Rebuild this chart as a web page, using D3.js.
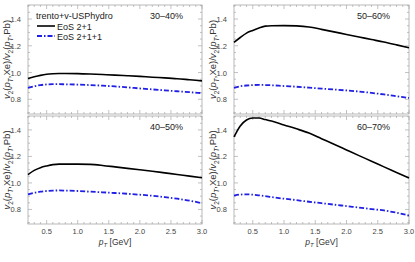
<!DOCTYPE html>
<html>
<head>
<meta charset="utf-8">
<script src="https://cdn.jsdelivr.net/npm/d3@7"></script>
<style>
  body { margin: 0; background: #fff; }
  svg { display: block; font-family: "Liberation Sans", Arial, sans-serif; }
</style>
</head>
<body>
<div id="chart"></div>
<script>
const width = 415, height = 262;

// shared pT grid (GeV)
const ptGrid = [0.2, 0.3, 0.4, 0.5, 0.6, 0.7, 0.8, 1.0, 1.2, 1.4, 1.6, 1.8, 2.0, 2.2, 2.4, 2.6, 2.8, 3.0];

// ratio v2(Xe)/v2(Pb), EoS 2+1 (solid) and EoS 2+1+1 (dot-dashed)
const eos21_3040  = [0.955, 0.968, 0.979, 0.987, 0.991, 0.993, 0.993, 0.992, 0.989, 0.985, 0.981, 0.976, 0.971, 0.965, 0.960, 0.954, 0.946, 0.938];
const eos211_3040 = [0.885, 0.898, 0.906, 0.911, 0.913, 0.913, 0.912, 0.910, 0.906, 0.902, 0.896, 0.889, 0.881, 0.874, 0.867, 0.860, 0.853, 0.846];
const eos21_5060  = [1.225, 1.262, 1.295, 1.315, 1.333, 1.347, 1.350, 1.351, 1.349, 1.341, 1.323, 1.304, 1.285, 1.266, 1.247, 1.228, 1.207, 1.185];
const eos211_5060 = [0.885, 0.897, 0.903, 0.906, 0.908, 0.907, 0.905, 0.899, 0.894, 0.887, 0.880, 0.873, 0.866, 0.858, 0.848, 0.836, 0.823, 0.810];
const eos21_4050  = [1.063, 1.095, 1.115, 1.128, 1.138, 1.142, 1.142, 1.142, 1.140, 1.132, 1.121, 1.110, 1.099, 1.088, 1.076, 1.064, 1.051, 1.039];
const eos211_4050 = [0.914, 0.926, 0.934, 0.939, 0.942, 0.943, 0.942, 0.939, 0.934, 0.929, 0.924, 0.918, 0.911, 0.903, 0.893, 0.881, 0.866, 0.847];
const eos21_6070  = [1.347, 1.430, 1.475, 1.490, 1.490, 1.478, 1.467, 1.437, 1.408, 1.376, 1.334, 1.292, 1.249, 1.206, 1.164, 1.121, 1.079, 1.037];
const eos211_6070 = [0.904, 0.912, 0.914, 0.911, 0.906, 0.900, 0.893, 0.881, 0.870, 0.858, 0.847, 0.836, 0.825, 0.814, 0.803, 0.792, 0.775, 0.754];

const centralities = ["30\u201340%", "50\u201360%", "40\u201350%", "60\u201370%"];
const solidSeries = [eos21_3040, eos21_5060, eos21_4050, eos21_6070];
const dashSeries  = [eos211_3040, eos211_5060, eos211_4050, eos211_6070];

const xTicks = [0.5, 1.0, 1.5, 2.0, 2.5, 3.0];
const yTicks = [0.8, 1.0, 1.2, 1.4];
const legendLabels = ["EoS 2+1", "EoS 2+1+1"];

// panel boxes: [left, right, top, bottom]
const boxes = [
  [28, 202, 5, 114], [234, 409, 5, 114],
  [28, 202, 116, 224], [234, 409, 116, 224]
];

const frameColor = "#a8a8a8";
const labelColor = "#444";

const svg = d3.select("#chart").append("svg")
  .attr("width", width).attr("height", height);

const line = (x, y) => d3.line()
  .x((d, i) => x(ptGrid[i]))
  .y(d => y(d))
  .curve(d3.curveMonotoneX);

boxes.forEach((b, k) => {
  const x = d3.scaleLinear().domain([0.2, 3.0]).range([b[0], b[1]]);
  const y = d3.scaleLinear().domain([0.69, 1.505]).range([b[3], b[2]]);
  const g = svg.append("g");

  // minor + major ticks on all four sides
  const xMinor = d3.range(2, 31).map(v => v / 10);
  const yMinor = d3.range(14, 31).map(v => v / 20);
  xMinor.forEach(v => {
    const len = xTicks.some(t => Math.abs(t - v) < 1e-6) ? 4 : 2;
    g.append("line").attr("x1", x(v)).attr("x2", x(v)).attr("y1", b[3]).attr("y2", b[3] - len)
      .attr("stroke", frameColor).attr("stroke-width", 0.7);
    g.append("line").attr("x1", x(v)).attr("x2", x(v)).attr("y1", b[2]).attr("y2", b[2] + len)
      .attr("stroke", frameColor).attr("stroke-width", 0.7);
  });
  yMinor.forEach(v => {
    const len = yTicks.some(t => Math.abs(t - v) < 1e-6) ? 4 : 2;
    g.append("line").attr("y1", y(v)).attr("y2", y(v)).attr("x1", b[0]).attr("x2", b[0] + len)
      .attr("stroke", frameColor).attr("stroke-width", 0.7);
    g.append("line").attr("y1", y(v)).attr("y2", y(v)).attr("x1", b[1]).attr("x2", b[1] - len)
      .attr("stroke", frameColor).attr("stroke-width", 0.7);
  });

  // frame
  g.append("rect").attr("x", b[0]).attr("y", b[2])
    .attr("width", b[1] - b[0]).attr("height", b[3] - b[2])
    .attr("fill", "none").attr("stroke", frameColor).attr("stroke-width", 0.8);

  // y tick labels
  g.selectAll(".ylab").data(yTicks).enter().append("text")
    .attr("x", b[0] - 7).attr("y", d => y(d) + 3)
    .attr("text-anchor", "end").attr("font-size", 7.5).attr("fill", labelColor)
    .text(d => d.toFixed(1));

  // x tick labels on bottom row
  if (k >= 2) {
    g.selectAll(".xlab").data(xTicks).enter().append("text")
      .attr("x", d => x(d)).attr("y", b[3] + 10)
      .attr("text-anchor", "middle").attr("font-size", 7.5).attr("fill", labelColor)
      .text(d => d.toFixed(1));

    const xt = g.append("text").attr("x", (b[0] + b[1]) / 2).attr("y", 245)
      .attr("text-anchor", "middle").attr("font-size", 8.5).attr("fill", "#333");
    xt.append("tspan").attr("font-style", "italic").text("p");
    xt.append("tspan").attr("font-style", "italic").attr("font-size", 6).attr("dy", 2).text("T");
    xt.append("tspan").attr("dy", -2).text(" [GeV]");
  }

  // y axis title
  const cy = (b[2] + b[3]) / 2;
  const yt = g.append("text")
    .attr("transform", "translate(" + (b[0] - 18) + "," + cy + ") rotate(-90)")
    .attr("text-anchor", "middle").attr("font-size", 9.5).attr("fill", "#333");
  const parts = [
    ["v", "i"], ["2", "s"], ["(", ""], ["p", "i"], ["T", "si"], [",Xe)/", ""],
    ["v", "i"], ["2", "s"], ["(", ""], ["p", "i"], ["T", "si"], [",Pb)", ""]
  ];
  let sub = false;
  parts.forEach(p => {
    const t = yt.append("tspan").text(p[0]);
    const isSub = p[1].includes("s");
    if (p[1].includes("i")) t.attr("font-style", "italic");
    if (isSub) t.attr("font-size", 6.5);
    if (isSub && !sub) t.attr("dy", 2.5);
    if (!isSub && sub) t.attr("dy", -2.5);
    sub = isSub;
  });

  // curves
  g.append("path").datum(dashSeries[k])
    .attr("d", line(x, y)).attr("fill", "none")
    .attr("stroke", "#1f1fe6").attr("stroke-width", 1.8)
    .attr("stroke-dasharray", "5,2,1.5,2");
  g.append("path").datum(solidSeries[k])
    .attr("d", line(x, y)).attr("fill", "none")
    .attr("stroke", "#000").attr("stroke-width", 1.6);

  // centrality label
  g.append("text").attr("x", b[1] - 19).attr("y", b[2] + 14)
    .attr("text-anchor", "end").attr("font-size", 9).attr("fill", "#222")
    .text(centralities[k]);
});

// legend in first panel
const lg = svg.append("g");
lg.append("text").attr("x", 36).attr("y", 19).attr("font-size", 9).attr("fill", "#222")
  .text("trento+v-USPhydro");
legendLabels.forEach((lab, i) => {
  const yy = 26 + i * 10;
  lg.append("line").attr("x1", 37).attr("x2", 55).attr("y1", yy).attr("y2", yy)
    .attr("stroke", i === 0 ? "#000" : "#1f1fe6").attr("stroke-width", i === 0 ? 1.6 : 1.8)
    .attr("stroke-dasharray", i === 0 ? null : "5,2,1.5,2");
  lg.append("text").attr("x", 57).attr("y", yy + 3.5).attr("font-size", 9).attr("fill", "#222")
    .text(lab);
});
</script>
</body>
</html>
